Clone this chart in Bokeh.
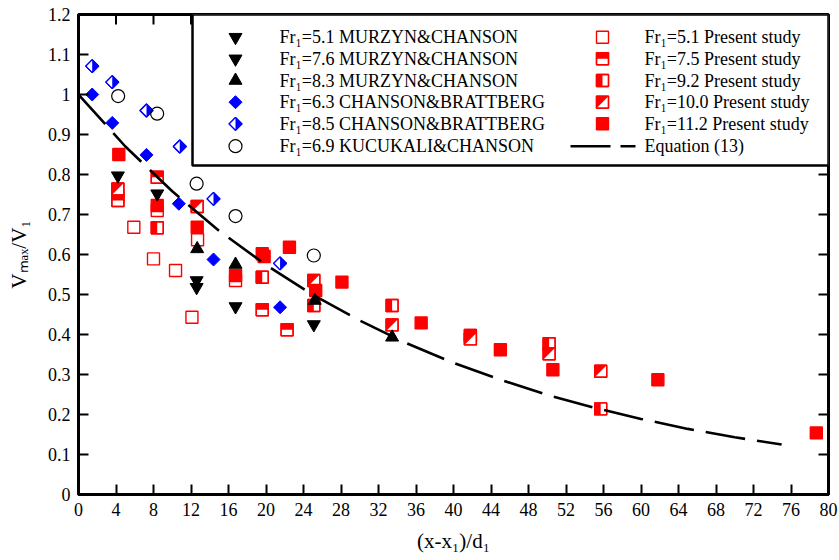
import math
from bokeh.plotting import figure
from bokeh.models import Range1d, FixedTicker
from bokeh.embed import file_html
from bokeh.resources import INLINE
from bokeh.core.properties import value

# ---------------- data ----------------
mc51_x = [4.2, 12.6, 16.75, 25.1]
mc51_y = [0.797, 0.535, 0.47, 0.425]
mc76_x = [8.4, 12.6]
mc76_y = [0.752, 0.518]
mc83_x = [12.66, 16.75, 25.2, 33.45]
mc83_y = [0.614, 0.575, 0.485, 0.393]
cb63_x = [1.46, 3.6, 7.25, 10.7, 14.4, 21.5]
cb63_y = [1.0, 0.929, 0.849, 0.727, 0.5875, 0.468]
cb85_x = [1.46, 3.6, 7.25, 10.8, 14.4, 21.5]
cb85_y = [1.071, 1.031, 0.96, 0.87, 0.739, 0.578]
kc69_x = [4.23, 8.39, 12.6, 16.75, 25.1]
kc69_y = [0.996, 0.952, 0.777, 0.696, 0.5975]

ps51_x = [4.2, 5.9, 8.0, 10.35, 12.1, 12.7, 16.75, 8.4]
ps51_y = [0.745, 0.668, 0.589, 0.56, 0.443, 0.637, 0.535, 0.71]
ps75_x = [8.4, 4.2, 19.6, 22.25, 41.8]
ps75_y = [0.793, 0.735, 0.462, 0.412, 0.3975]
ps92_x = [8.4, 19.6, 25.1, 33.45, 50.2, 55.7]
ps92_y = [0.667, 0.543, 0.4725, 0.4725, 0.377, 0.214]
ps100_x = [4.2, 12.66, 25.1, 33.45, 41.8, 50.2, 55.7]
ps100_y = [0.764, 0.72, 0.535, 0.424, 0.389, 0.352, 0.308]
ps112_x = [4.3, 8.4, 12.66, 16.75, 19.6, 19.8, 22.5, 25.3, 28.1, 36.55, 45.0, 50.6, 61.8, 78.7]
ps112_y = [0.85, 0.7225, 0.668, 0.5475, 0.602, 0.595, 0.618, 0.51, 0.531, 0.429, 0.362, 0.312, 0.287, 0.154]

eq_x = [0, 5, 10, 15, 20, 25, 30, 35, 40, 45, 50, 55, 60, 65, 70, 75]
eq_y = [1.0, 0.870, 0.758, 0.659, 0.574, 0.499, 0.435, 0.378, 0.329, 0.287, 0.249, 0.217, 0.189, 0.164, 0.143, 0.125]

x_ticks = list(range(0, 81, 4))
y_ticks = [0, 0.1, 0.2, 0.3, 0.4, 0.5, 0.6, 0.7, 0.8, 0.9, 1, 1.1, 1.2]
y_tick_labels = ["0", "0.1", "0.2", "0.3", "0.4", "0.5", "0.6", "0.7", "0.8", "0.9", "1", "1.1", "1.2"]

legend_left = ["Fr\u2081=5.1 MURZYN&CHANSON", "Fr\u2081=7.6 MURZYN&CHANSON", "Fr\u2081=8.3 MURZYN&CHANSON",
               "Fr\u2081=6.3 CHANSON&BRATTBERG", "Fr\u2081=8.5 CHANSON&BRATTBERG", "Fr\u2081=6.9 KUCUKALI&CHANSON"]
legend_right = ["Fr\u2081=5.1 Present study", "Fr\u2081=7.5 Present study", "Fr\u2081=9.2 Present study",
                "Fr\u2081=10.0 Present study", "Fr\u2081=11.2 Present study", "Equation (13)"]

# ---------------- layout / style ----------------
FW, FH = 750, 480
XMIN, XMAX, YMIN, YMAX = 0, 80, 0, 1.2
DX = (XMAX - XMIN) / FW
DY = (YMAX - YMIN) / FH
RED, BLUE = "#ff0000", "#0000ff"
FONT = "Liberation Serif"
SQ = 12
H = SQ / 2
DR = 6.5   # diamond half-diagonal px
TICK = 10  # tick length px


def px2x(px):
    return XMIN + (px - 78) * DX


def px2y(py):
    return YMIN + (494 - py) * DY


p = figure(frame_width=FW, frame_height=FH, x_range=Range1d(XMIN, XMAX), y_range=Range1d(YMIN, YMAX),
           output_backend="svg", toolbar_location=None,
           min_border_left=78, min_border_right=11, min_border_top=14, min_border_bottom=66)
p.xgrid.visible = False
p.ygrid.visible = False
p.outline_line_color = "black"
p.outline_line_width = 3
p.background_fill_color = "white"
p.border_fill_color = "white"

xb = p.below[0]
yl = p.left[0]


def style(ax, ticks):
    ax.ticker = FixedTicker(ticks=ticks)
    ax.axis_line_width = 3
    ax.axis_line_color = "black"
    ax.major_tick_in = TICK
    ax.major_tick_out = 0
    ax.major_tick_line_width = 2
    ax.major_tick_line_color = "black"
    ax.minor_tick_line_color = None
    ax.major_label_text_font = FONT
    ax.major_label_text_color = "black"
    ax.major_label_text_font_size = "18px"
    ax.major_label_standoff = 8
    ax.axis_label_text_font = FONT
    ax.axis_label_text_font_size = "21px"
    ax.axis_label_text_font_style = "normal"
    ax.axis_label_text_color = "black"


style(xb, x_ticks)
style(yl, y_ticks)
yl.major_label_overrides = {t: l for t, l in zip(y_ticks, y_tick_labels)}
xb.axis_label = "(x-x\u2081)/d\u2081"
yl.axis_label = "V\u2098\u2090\u2093/V\u2081"
xb.axis_label_standoff = 10
yl.axis_label_standoff = 14

# inward ticks on the top and right frame edges
p.segment(x0=x_ticks, x1=x_ticks, y0=[YMAX] * len(x_ticks), y1=[YMAX - TICK * DY] * len(x_ticks),
          line_color="black", line_width=2)
p.segment(x0=[XMAX] * len(y_ticks), x1=[XMAX - TICK * DX] * len(y_ticks), y0=y_ticks, y1=y_ticks,
          line_color="black", line_width=2)


# ---------------- marker helpers ----------------
def sq_outline(xs, ys, fill):
    p.scatter(xs, ys, marker="square", size=SQ, fill_color=fill, line_color=RED, line_width=1.4)


def open_sq(xs, ys):
    sq_outline(xs, ys, "white")


def top_half(xs, ys):
    sq_outline(xs, ys, "white")
    p.quad(left=[x - H * DX for x in xs], right=[x + H * DX for x in xs],
           bottom=list(ys), top=[y + H * DY for y in ys], fill_color=RED, line_color=None)
    sq_outline(xs, ys, None)


def left_half(xs, ys):
    sq_outline(xs, ys, "white")
    p.quad(left=[x - H * DX for x in xs], right=list(xs),
           bottom=[y - H * DY for y in ys], top=[y + H * DY for y in ys], fill_color=RED, line_color=None)
    sq_outline(xs, ys, None)


def diag_half(xs, ys):
    sq_outline(xs, ys, "white")
    p.patches(xs=[[x - H * DX, x + H * DX, x - H * DX] for x in xs],
              ys=[[y + H * DY, y + H * DY, y - H * DY] for y in ys], fill_color=RED, line_color=None)
    sq_outline(xs, ys, None)


def full_sq(xs, ys):
    sq_outline(xs, ys, RED)


def diamond_full(xs, ys):
    p.scatter(xs, ys, marker="square", angle=math.pi / 4, size=2 * DR / math.sqrt(2),
              fill_color=BLUE, line_color=BLUE, line_width=1)


def diamond_half(xs, ys):
    p.scatter(xs, ys, marker="square", angle=math.pi / 4, size=2 * DR / math.sqrt(2),
              fill_color="white", line_color=BLUE, line_width=1.2)
    p.patches(xs=[[x, x + DR * DX, x] for x in xs],
              ys=[[y + DR * DY, y, y - DR * DY] for y in ys], fill_color=BLUE, line_color=None)
    p.scatter(xs, ys, marker="square", angle=math.pi / 4, size=2 * DR / math.sqrt(2),
              fill_color=None, line_color=BLUE, line_width=1.2)


def tri_down(xs, ys):
    p.scatter(xs, ys, marker="inverted_triangle", size=13, fill_color="black", line_color="black")


def tri_up(xs, ys):
    p.scatter(xs, ys, marker="triangle", size=13, fill_color="black", line_color="black")


def circ(xs, ys):
    p.scatter(xs, ys, marker="circle", size=13, fill_color=None, line_color="black", line_width=1.2)


# ---------------- data marks ----------------
open_sq(ps51_x, ps51_y)
top_half(ps75_x, ps75_y)
left_half(ps92_x, ps92_y)
diag_half(ps100_x, ps100_y)
full_sq(ps112_x, ps112_y)

diamond_full(cb63_x, cb63_y)
diamond_half(cb85_x, cb85_y)
circ(kc69_x, kc69_y)
tri_down(mc51_x, mc51_y)
tri_down(mc76_x, mc76_y)
tri_up(mc83_x, mc83_y)

p.line(eq_x, eq_y, line_color="black", line_width=2.6, line_dash="40 12")

# ---------------- legend (drawn manually) ----------------
p.quad(left=[px2x(192)], right=[XMAX], top=[YMAX], bottom=[px2y(165)],
       fill_color="white", line_color="black", line_width=2.5)

rows_py = [36.7, 58.3, 80, 101.7, 123.3, 145.7]
row_y = [px2y(v) for v in rows_py]
lx_m, lx_t = px2x(235), px2x(279)
rx_m, rx_t = px2x(602), px2x(644)

tri_down([lx_m], [row_y[0]])
tri_down([lx_m], [row_y[1]])
tri_up([lx_m], [row_y[2]])
diamond_full([lx_m], [row_y[3]])
diamond_half([lx_m], [row_y[4]])
circ([lx_m], [row_y[5]])

open_sq([rx_m], [row_y[0]])
top_half([rx_m], [row_y[1]])
left_half([rx_m], [row_y[2]])
diag_half([rx_m], [row_y[3]])
full_sq([rx_m], [row_y[4]])
p.line([px2x(570), px2x(635)], [row_y[5], row_y[5]], line_color="black", line_width=2.6, line_dash="40 10")

p.text(x=[lx_t] * 6, y=row_y, text=legend_left, text_font=value(FONT), text_font_size="18px",
       text_baseline="middle", text_align="left", text_color="black")
p.text(x=[rx_t] * 6, y=row_y, text=legend_right, text_font=value(FONT), text_font_size="18px",
       text_baseline="middle", text_align="left", text_color="black")

open("out.html", "w").write(file_html(p, INLINE))
